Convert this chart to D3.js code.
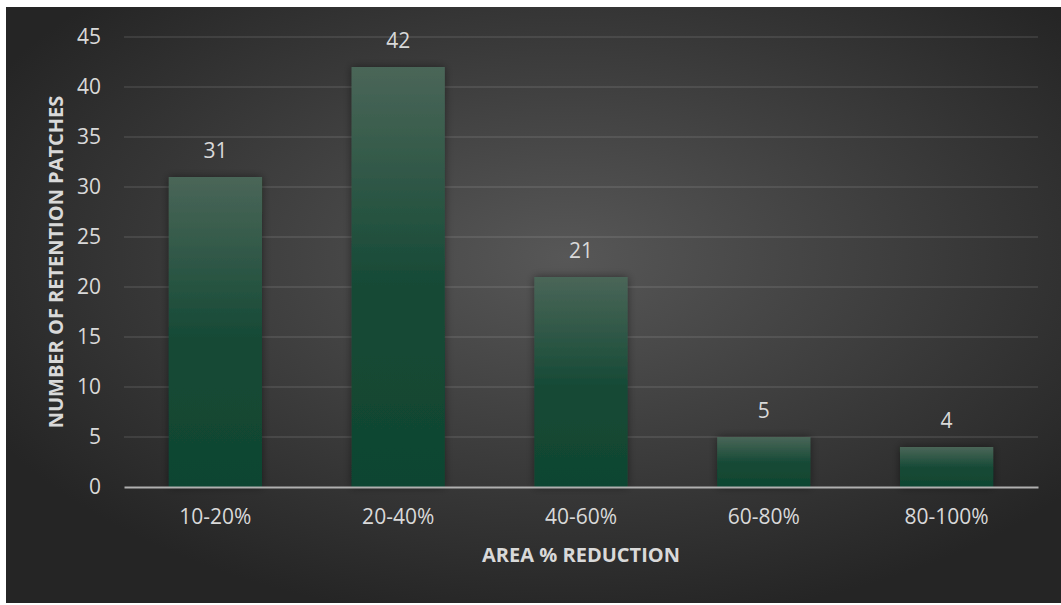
<!DOCTYPE html>
<html>
<head>
<meta charset="utf-8">
<script src="https://cdn.jsdelivr.net/npm/d3@7"></script>
<style>
  html, body { margin: 0; padding: 0; background: #ffffff; }
  svg { display: block; }
  text { font-family: "Open Sans", "Noto Sans", sans-serif; fill: #d9d9d9; }
</style>
</head>
<body>
<svg id="chart" width="1061" height="605"></svg>
<script>
// Retention patches grouped by how much of their area was lost
const categories = ["10-20%", "20-40%", "40-60%", "60-80%", "80-100%"];
const counts = [31, 42, 21, 5, 4];
const yTicks = [0, 5, 10, 15, 20, 25, 30, 35, 40, 45];
const xTitle = "AREA % REDUCTION";
const yTitle = "NUMBER OF RETENTION PATCHES";

const svg = d3.select("#chart");
const defs = svg.append("defs");

// dark radial backdrop
const bg = defs.append("radialGradient").attr("id", "bgGrad")
  .attr("cx", "53%").attr("cy", "42%").attr("r", "62%");
bg.append("stop").attr("offset", "0%").attr("stop-color", "#575757");
bg.append("stop").attr("offset", "100%").attr("stop-color", "#252525");

// vertical fade on each bar
const barGrad = defs.append("linearGradient").attr("id", "barGrad")
  .attr("x1", 0).attr("y1", 0).attr("x2", 0).attr("y2", 1);
barGrad.append("stop").attr("offset", "0%").attr("stop-color", "#4a6658");
barGrad.append("stop").attr("offset", "52%").attr("stop-color", "#164a36");
barGrad.append("stop").attr("offset", "100%").attr("stop-color", "#0f4530");

const shadow = defs.append("filter").attr("id", "barShadow")
  .attr("x", "-30%").attr("y", "-30%").attr("width", "160%").attr("height", "160%");
shadow.append("feDropShadow").attr("dx", 0).attr("dy", 0)
  .attr("stdDeviation", 4).attr("flood-color", "#000").attr("flood-opacity", 0.45);

svg.append("rect").attr("x", 6).attr("y", 7).attr("width", 1055).attr("height", 596)
  .attr("fill", "url(#bgGrad)");

const margin = { left: 124, right: 1038, top: 37, bottom: 487 };

const x = d3.scaleBand().domain(categories)
  .range([margin.left, margin.right])
  .paddingInner(0.49).paddingOuter(0.245);

const y = d3.scaleLinear().domain([0, 45]).range([margin.bottom, margin.top]);

// horizontal gridlines
svg.append("g").selectAll("line").data(yTicks.filter(t => t > 0)).join("line")
  .attr("x1", margin.left).attr("x2", margin.right)
  .attr("y1", d => y(d)).attr("y2", d => y(d))
  .attr("stroke", "#ffffff").attr("stroke-opacity", 0.09).attr("stroke-width", 2);

// y axis labels
const yAxis = svg.append("g").attr("transform", `translate(${margin.left},0)`)
  .call(d3.axisLeft(y).tickValues(yTicks).tickSize(0).tickPadding(23));
yAxis.select(".domain").remove();
yAxis.selectAll("text")
  .attr("font-size", 21).attr("fill", "#d9d9d9")
  .attr("font-family", "'Open Sans', sans-serif");

// bars
svg.append("g").selectAll("rect").data(counts).join("rect")
  .attr("x", (d, i) => x(categories[i]))
  .attr("width", x.bandwidth())
  .attr("y", d => y(d))
  .attr("height", d => y(0) - y(d))
  .attr("fill", "url(#barGrad)")
  .attr("filter", "url(#barShadow)");

// value labels
svg.append("g").selectAll("text").data(counts).join("text")
  .attr("x", (d, i) => x(categories[i]) + x.bandwidth() / 2)
  .attr("y", d => y(d) - 19)
  .attr("text-anchor", "middle")
  .attr("font-size", 21)
  .text(d => d);

// x axis
const xAxis = svg.append("g").attr("transform", `translate(0,${y(0)})`)
  .call(d3.axisBottom(x).tickSize(0).tickPadding(22));
xAxis.select(".domain").attr("stroke", "#b0b0b0").attr("stroke-width", 2);
xAxis.selectAll("text")
  .attr("font-size", 21).attr("fill", "#d9d9d9")
  .attr("font-family", "'Open Sans', sans-serif");

// axis titles
svg.append("text")
  .attr("x", (margin.left + margin.right) / 2).attr("y", 562)
  .attr("text-anchor", "middle").attr("font-size", 20).attr("font-weight", "bold")
  .text(xTitle);

svg.append("text")
  .attr("transform", `translate(63,${(margin.top + margin.bottom) / 2}) rotate(-90)`)
  .attr("text-anchor", "middle").attr("font-size", 20).attr("font-weight", "bold")
  .text(yTitle);
</script>
</body>
</html>
